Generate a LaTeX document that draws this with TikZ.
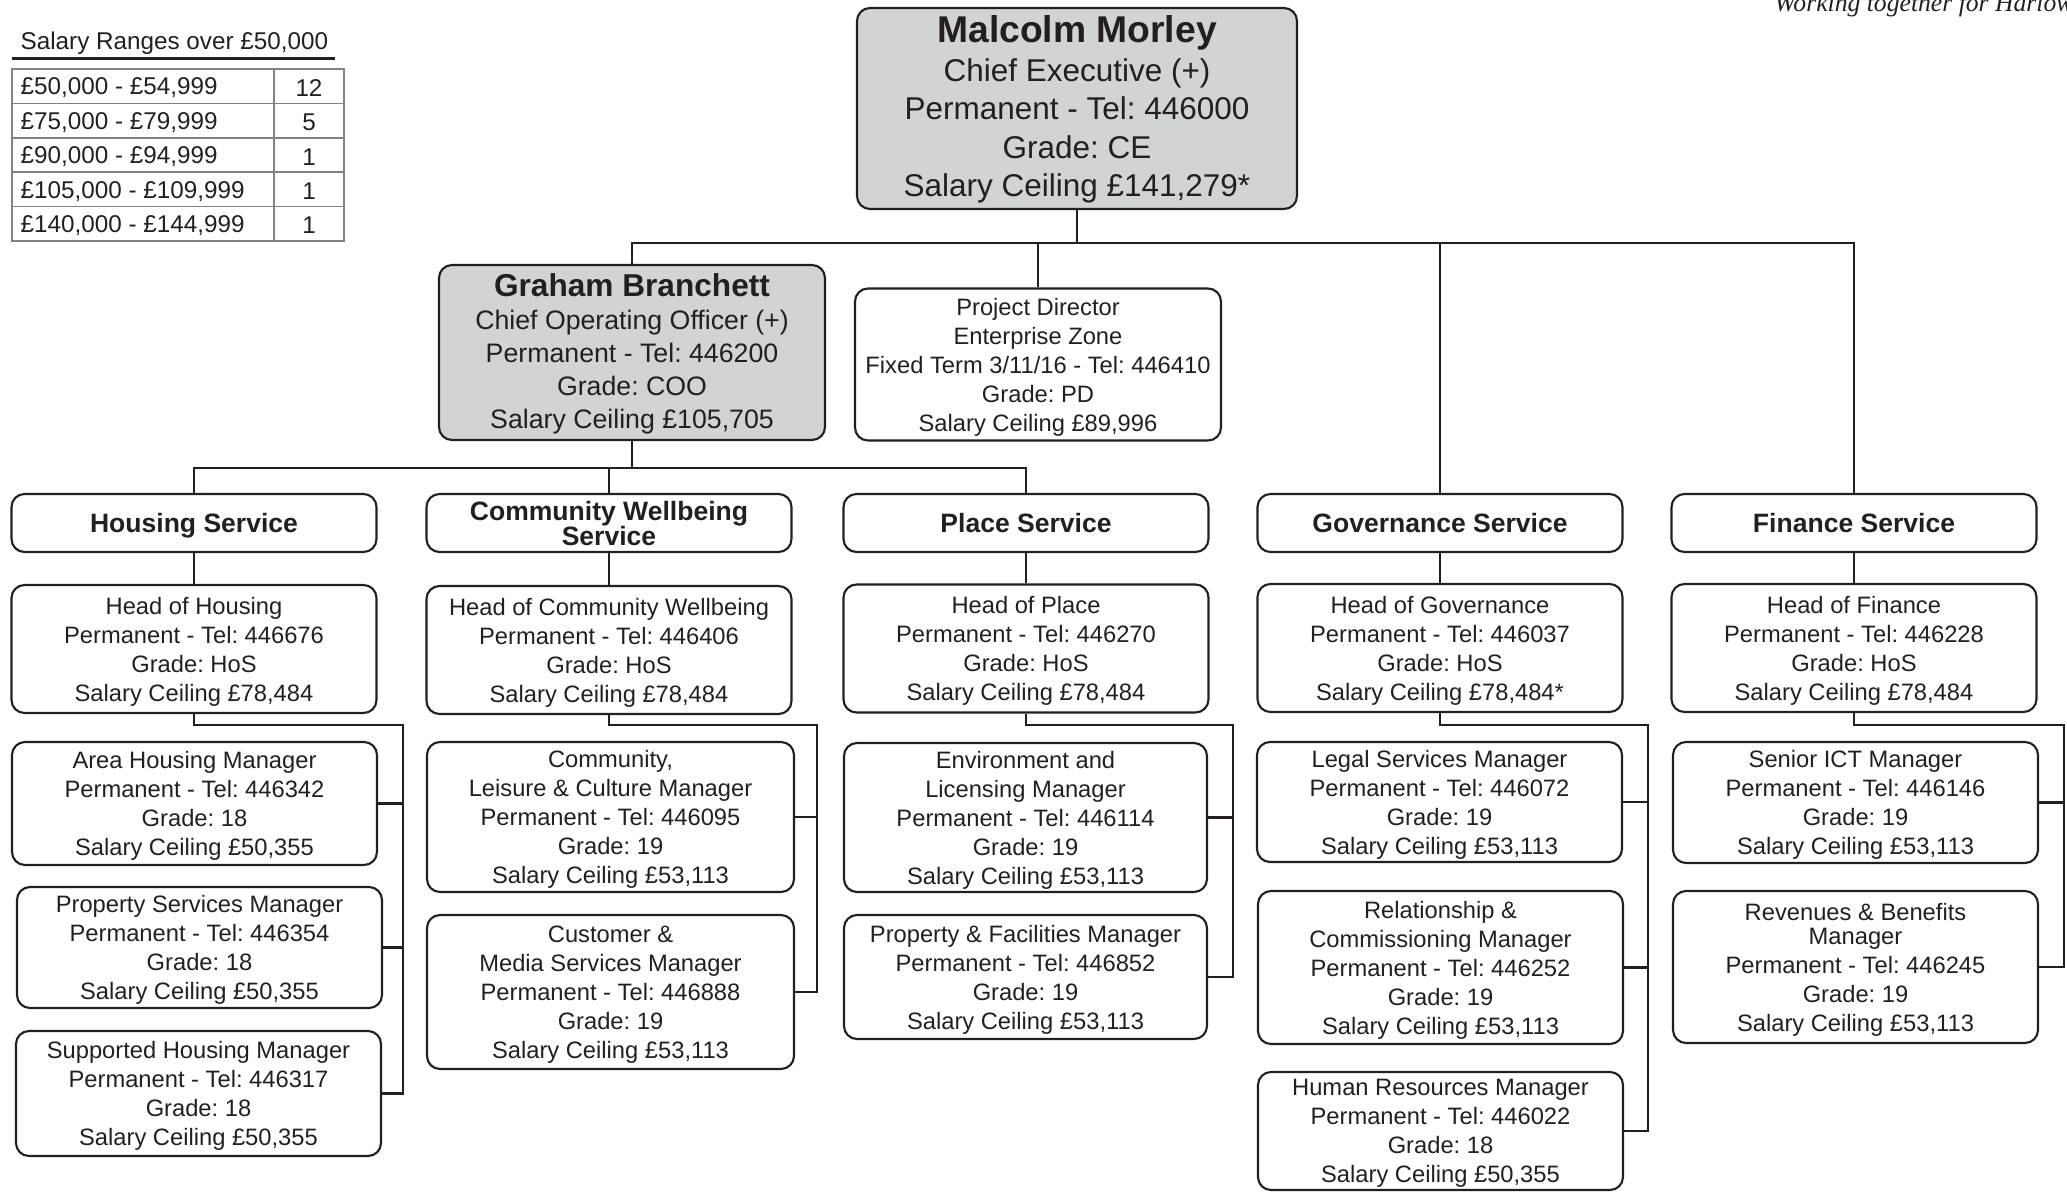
\documentclass[tikz,border=0pt]{standalone}
\usepackage{fontspec}
\setmainfont{Liberation Sans}
\newfontfamily\taglinefont{Liberation Serif}
\definecolor{ink}{HTML}{231F20}
\definecolor{panel}{HTML}{D1D3D4}
\definecolor{grid}{HTML}{808285}
\frenchspacing

\begin{document}
\begin{tikzpicture}[
    post/.style={draw=ink, line width=0.6pt, rounded corners=1.3mm, align=center, text=ink,
        inner sep=0pt, minimum width=3.65cm, text depth=0pt, font=\fontsize{6.75}{8.25}\selectfont},
    lead/.style={post, fill=panel},
    service/.style={post, minimum height=0.58cm, font=\bfseries\fontsize{7.55}{7.1}\selectfont},
    link/.style={draw=ink, line width=0.8pt},
    cell/.style={text=ink, inner sep=0pt, font=\fontsize{6.9}{8}\selectfont}
]

    \useasboundingbox (0,0) rectangle (20.67,-11.92);
    \clip (0,0) rectangle (20.67,-11.92);

    % Strapline (runs off the page)
    \node[anchor=base west, text=ink, font=\taglinefont\itshape\fontsize{7.3}{9}\selectfont] (strapline) at (17.62,-0.12) {Working together for Harlow};

    % Salary ranges table
    \node[cell, anchor=west] (ranges-title) at (0.2,-0.43) {Salary Ranges over £50,000};
    \draw[ink, line width=0.9pt] (0.12,-0.585) -- (3.35,-0.585);
    \draw[grid, line width=0.45pt] (0.12,-0.69) rectangle (3.44,-2.41);
    \draw[grid, line width=0.45pt] (2.74,-0.69) -- (2.74,-2.41);
    \foreach \i in {1,...,4} {
        \draw[grid, line width=0.45pt] (0.12,{-0.69-\i*0.344}) -- (3.44,{-0.69-\i*0.344});
    }
    \foreach \i/\band/\tally in {1/{£50,000 - £54,999}/12, 2/{£75,000 - £79,999}/5, 3/{£90,000 - £94,999}/1,
                                 4/{£105,000 - £109,999}/1, 5/{£140,000 - £144,999}/1} {
        \node[cell, anchor=west] (band-\i) at (0.2,{-0.535-\i*0.344}) {\band};
        \node[cell] (tally-\i) at (3.09,{-0.535-\i*0.344}) {\tally};
    }

    % Chief Executive and direct reports
    \node[lead, minimum width=4.4cm, minimum height=2.01cm, text depth=1.2pt, font=\fontsize{8.96}{10.95}\selectfont] (ceo) at (10.77,-1.085)
        {{\bfseries\fontsize{10.6}{12}\selectfont Malcolm Morley}\\Chief Executive (+)\\Permanent - Tel: 446000\\Grade: CE\\Salary Ceiling £141,279*};
    \node[lead, minimum width=3.86cm, minimum height=1.75cm, text depth=0.6pt, font=\fontsize{7.6}{9.4}\selectfont] (coo) at (6.32,-3.525)
        {{\bfseries\fontsize{9}{11}\selectfont Graham Branchett}\\Chief Operating Officer (+)\\Permanent - Tel: 446200\\Grade: COO\\Salary Ceiling £105,705};
    \node[post, minimum width=3.66cm, minimum height=1.52cm] (pd) at (10.38,-3.645)
        {Project Director\\Enterprise Zone\\Fixed Term 3/11/16 - Tel: 446410\\Grade: PD\\Salary Ceiling £89,996};

    % Services
    \foreach \n/\x/\t in {housing/1.94/Housing Service, cw/6.09/{Community Wellbeing\\Service}, place/10.26/Place Service,
                          governance/14.40/Governance Service, finance/18.54/Finance Service} {
        \node[service] (\n-service) at (\x,-5.23) {\t};
    }

    % Heads of service
    \node[post, minimum height=1.28cm] (housing-head) at (1.94,-6.49) {Head of Housing\\Permanent - Tel: 446676\\Grade: HoS\\Salary Ceiling £78,484};
    \node[post, minimum height=1.28cm] (cw-head) at (6.09,-6.50) {Head of Community Wellbeing\\Permanent - Tel: 446406\\Grade: HoS\\Salary Ceiling £78,484};
    \node[post, minimum height=1.28cm] (place-head) at (10.26,-6.485) {Head of Place\\Permanent - Tel: 446270\\Grade: HoS\\Salary Ceiling £78,484};
    \node[post, minimum height=1.28cm] (governance-head) at (14.40,-6.48) {Head of Governance\\Permanent - Tel: 446037\\Grade: HoS\\Salary Ceiling £78,484*};
    \node[post, minimum height=1.28cm] (finance-head) at (18.54,-6.48) {Head of Finance\\Permanent - Tel: 446228\\Grade: HoS\\Salary Ceiling £78,484};

    % Housing
    \node[post, minimum height=1.23cm] (area) at (1.945,-8.035) {Area Housing Manager\\Permanent - Tel: 446342\\Grade: 18\\Salary Ceiling £50,355};
    \node[post, minimum height=1.21cm] (property) at (1.995,-9.475) {Property Services Manager\\Permanent - Tel: 446354\\Grade: 18\\Salary Ceiling £50,355};
    \node[post, minimum height=1.25cm] (supported) at (1.985,-10.935) {Supported Housing Manager\\Permanent - Tel: 446317\\Grade: 18\\Salary Ceiling £50,355};

    % Community Wellbeing
    \node[post, minimum width=3.67cm, minimum height=1.50cm] (community) at (6.105,-8.17) {Community,\\Leisure \& Culture Manager\\Permanent - Tel: 446095\\Grade: 19\\Salary Ceiling £53,113};
    \node[post, minimum width=3.67cm, minimum height=1.54cm] (customer) at (6.105,-9.92) {Customer \&\\Media Services Manager\\Permanent - Tel: 446888\\Grade: 19\\Salary Ceiling £53,113};

    % Place
    \node[post, minimum width=3.63cm, minimum height=1.49cm] (environment) at (10.255,-8.175) {Environment and\\Licensing Manager\\Permanent - Tel: 446114\\Grade: 19\\Salary Ceiling £53,113};
    \node[post, minimum width=3.63cm, minimum height=1.24cm] (facilities) at (10.255,-9.77) {Property \& Facilities Manager\\Permanent - Tel: 446852\\Grade: 19\\Salary Ceiling £53,113};

    % Governance
    \node[post, minimum height=1.20cm] (legal) at (14.395,-8.02) {Legal Services Manager\\Permanent - Tel: 446072\\Grade: 19\\Salary Ceiling £53,113};
    \node[post, minimum height=1.53cm] (relationship) at (14.405,-9.675) {Relationship \&\\Commissioning Manager\\Permanent - Tel: 446252\\Grade: 19\\Salary Ceiling £53,113};
    \node[post, minimum height=1.18cm] (hr) at (14.405,-11.31) {Human Resources Manager\\Permanent - Tel: 446022\\Grade: 18\\Salary Ceiling £50,355};

    % Finance
    \node[post, minimum height=1.21cm] (ict) at (18.555,-8.025) {Senior ICT Manager\\Permanent - Tel: 446146\\Grade: 19\\Salary Ceiling £53,113};
    \node[post, minimum height=1.52cm] (revenues) at (18.555,-9.67) {Revenues \& Benefits\\[-1.4pt]Manager\\Permanent - Tel: 446245\\Grade: 19\\Salary Ceiling £53,113};

    % Connections
    \coordinate (bus-top) at (0,-2.43);
    \coordinate (bus-coo) at (0,-4.68);
    \draw[link] (ceo.south) -- (ceo.south |- bus-top);
    \draw[link] (coo.north) |- (finance-service.north |- bus-top) -- (finance-service.north);
    \foreach \n in {pd, governance-service} {
        \draw[link] (\n.north) -- (\n.north |- bus-top);
    }
    \draw[link] (coo.south) -- (coo.south |- bus-coo);
    \draw[link] (housing-service.north) |- (place-service.north |- bus-coo) -- (place-service.north);
    \draw[link] (cw-service.north) -- (cw-service.north |- bus-coo);
    \foreach \n in {housing, cw, place, governance, finance} {
        \draw[link] (\n-service.south) -- (\n-head.north);
    }

    \foreach \n/\x/\last in {housing/4.03/supported, cw/8.17/customer, place/12.33/facilities,
                             governance/16.48/hr, finance/20.64/revenues} {
        \coordinate (\n-rail) at (\x,-7.25);
        \draw[link] (\n-head.south) |- (\n-rail) |- (\last.east);
    }
    \foreach \c/\n in {area/housing, property/housing, community/cw, environment/place,
                       legal/governance, relationship/governance, ict/finance} {
        \draw[link] (\c.east) -- (\c.east -| \n-rail);
    }

\end{tikzpicture}
\end{document}
